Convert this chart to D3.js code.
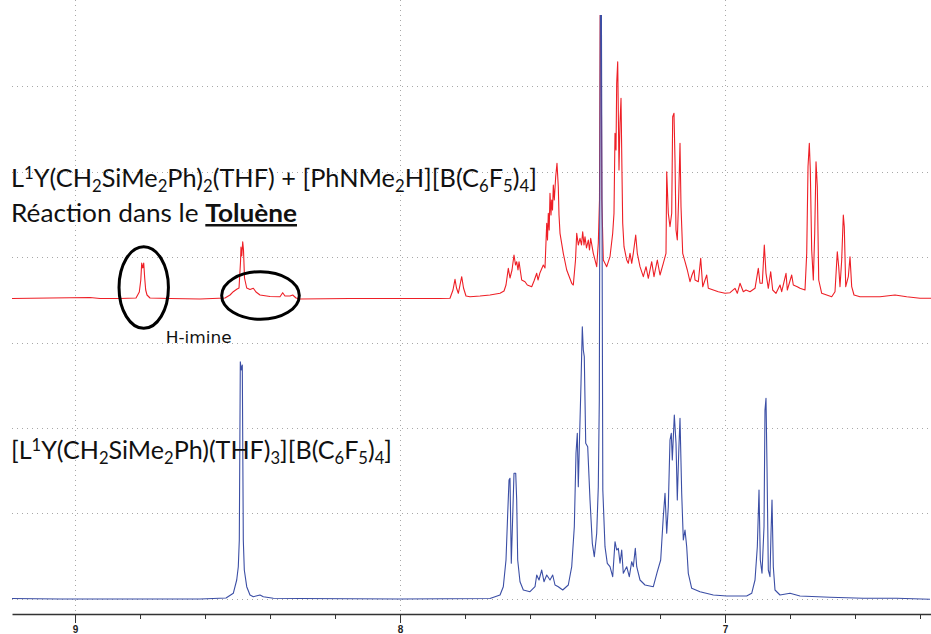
<!DOCTYPE html>
<html>
<head>
<meta charset="utf-8">
<script src="https://cdn.jsdelivr.net/npm/d3@7"></script>
<style>
  html, body { margin: 0; padding: 0; background: #ffffff; }
  svg { display: block; }
</style>
</head>
<body>
<script>
// ---------------- DATA ----------------
// chemical shift (ppm) , intensity (a.u.)
const redSpectrum = [[9.1939,0],[9.0770,0.5],[8.9539,1],[8.9231,0],[8.8616,0],[8.8123,0.5],[8.8022,6.5],[8.7976,18.5],[8.7948,35.5],[8.7917,30.5],[8.7886,35.5],[8.7856,20.5],[8.7825,8.5],[8.7785,3.5],[8.7693,0.5],[8.7077,0],[8.6154,-0.5],[8.5385,0.5],[8.5231,3.5],[8.5130,6.8],[8.5025,9.2],[8.4954,10.5],[8.4908,36.5],[8.4893,51.5],[8.4868,42.5],[8.4840,56.8],[8.4816,48.5],[8.4785,20.5],[8.4717,10.5],[8.4616,9],[8.4514,10.2],[8.4431,6.5],[8.4308,3.5],[8.4000,2],[8.3693,1.8],[8.3610,5.8],[8.3539,2.5],[8.3385,2.5],[8.3302,3.5],[8.3200,0.5],[8.3077,-0.5],[8.1539,0],[8.0000,0],[7.8770,0],[7.8462,0.2],[7.8370,8.5],[7.8308,19.2],[7.8262,10.5],[7.8206,5.2],[7.8154,13.5],[7.8102,21.8],[7.8046,10.5],[7.7970,2.5],[7.7846,1.8],[7.7539,2.5],[7.7231,3.5],[7.6923,5.2],[7.6800,7.5],[7.6739,13.5],[7.6668,30.2],[7.6616,20.5],[7.6554,28.5],[7.6493,43.5],[7.6446,33.5],[7.6410,36.8],[7.6370,28.5],[7.6339,36.8],[7.6256,18.5],[7.6154,16.8],[7.6083,13.5],[7.5948,11.8],[7.5877,17.5],[7.5794,25.2],[7.5754,18.5],[7.5693,25.8],[7.5591,33.5],[7.5539,30.5],[7.5486,75.2],[7.5462,58.5],[7.5437,85.2],[7.5410,68.5],[7.5385,105.2],[7.5354,83.5],[7.5333,98.5],[7.5308,88.5],[7.5283,113.5],[7.5253,98.5],[7.5210,121.8],[7.5170,135.2],[7.5130,111.8],[7.5108,83.5],[7.5077,65.2],[7.4976,45.2],[7.4871,28.5],[7.4717,15.2],[7.4668,13.5],[7.4600,38.5],[7.4563,65.2],[7.4514,53.5],[7.4462,60.2],[7.4416,53.5],[7.4379,66.8],[7.4339,53.5],[7.4308,61.8],[7.4262,50.5],[7.4206,58.5],[7.4170,48.5],[7.4133,60.2],[7.4053,45.2],[7.3948,31.8],[7.3899,55.2],[7.3862,98.5],[7.3837,320],[7.3818,320],[7.3790,98.5],[7.3745,38.5],[7.3640,31.8],[7.3539,41.8],[7.3456,65.2],[7.3416,85.2],[7.3385,165.2],[7.3354,148.5],[7.3333,215.2],[7.3302,236.8],[7.3262,128.5],[7.3231,175.2],[7.3200,200.2],[7.3170,125.2],[7.3148,75.2],[7.3108,51.8],[7.3025,38.5],[7.2976,35.2],[7.2923,45.2],[7.2871,35.2],[7.2822,45.2],[7.2748,63.5],[7.2699,45.2],[7.2616,31.8],[7.2514,21.8],[7.2431,31.8],[7.2360,20.2],[7.2256,36.8],[7.2185,21.8],[7.2083,38.5],[7.2000,23.5],[7.1899,35.2],[7.1816,45.2],[7.1794,126.8],[7.1745,85.2],[7.1693,71.8],[7.1640,85.2],[7.1610,181.8],[7.1570,185.2],[7.1539,138.5],[7.1508,68.5],[7.1468,58.5],[7.1425,101.8],[7.1385,155.2],[7.1354,91.8],[7.1302,45.2],[7.1231,36.8],[7.1160,28.5],[7.1077,16.8],[7.1016,23.5],[7.0954,28.5],[7.0923,18.5],[7.0822,16.8],[7.0748,40.2],[7.0686,11.8],[7.0563,23.5],[7.0514,10.2],[7.0360,8.5],[7.0206,6.8],[7.0000,5.2],[6.9846,5.8],[6.9693,10.2],[6.9622,5.2],[6.9539,15.2],[6.9437,6.8],[6.9354,8.5],[6.9231,6.8],[6.9077,10.2],[6.8976,30.2],[6.8923,15.2],[6.8853,15.2],[6.8791,53.5],[6.8739,25.2],[6.8668,10.2],[6.8594,26.8],[6.8533,8.5],[6.8431,5.2],[6.8308,13.5],[6.8256,6.8],[6.8123,25.2],[6.8083,8.5],[6.7948,23.5],[6.7899,13.5],[6.7776,11.8],[6.7693,10.2],[6.7539,8.5],[6.7486,45.2],[6.7446,131.8],[6.7406,155.2],[6.7376,128.5],[6.7333,48.5],[6.7283,18.5],[6.7240,65.2],[6.7200,136.8],[6.7160,111.8],[6.7117,18.5],[6.7025,5.2],[6.6871,3.5],[6.6717,1.8],[6.6616,6.8],[6.6545,46.8],[6.6502,31.8],[6.6462,11.8],[6.6410,38.5],[6.6360,83.5],[6.6330,71.8],[6.6286,11.8],[6.6206,21.8],[6.6154,41.8],[6.6102,11.8],[6.6031,3.5],[6.5846,1.8],[6.5231,1.8],[6.4770,3.5],[6.4410,1.8],[6.4000,0.2],[6.3662,0.2]];

const blueSpectrum = [[9.1939,0],[9.0462,-0.5],[8.8400,-0.5],[8.6154,-0.5],[8.5354,0.5],[8.5130,5.2],[8.5025,18.5],[8.4976,31.8],[8.4945,58.5],[8.4914,236.8],[8.4883,228.5],[8.4853,233.5],[8.4822,58.5],[8.4791,28.5],[8.4717,11.8],[8.4616,3.5],[8.4514,1.8],[8.4308,3.5],[8.4206,1.8],[8.3899,0.2],[8.3077,0],[8.0000,-0.5],[7.7231,0],[7.6923,3.5],[7.6822,11.8],[7.6739,38.5],[7.6686,85.2],[7.6646,118.5],[7.6616,120.2],[7.6576,35.2],[7.6533,81.8],[7.6493,125.2],[7.6440,125.2],[7.6410,98.5],[7.6379,38.5],[7.6308,16.8],[7.6206,8.5],[7.6000,6.8],[7.5846,11.8],[7.5794,23.5],[7.5723,18.5],[7.5640,28.5],[7.5570,16.8],[7.5486,23.5],[7.5385,18.5],[7.5302,23.5],[7.5231,13.5],[7.5130,11.8],[7.4994,8.5],[7.4822,13.5],[7.4717,31.8],[7.4637,71.8],[7.4585,145.2],[7.4545,165.2],[7.4514,111.8],[7.4483,151.8],[7.4431,215.2],[7.4391,271.8],[7.4360,248.5],[7.4330,241.8],[7.4286,155.2],[7.4225,151.8],[7.4154,98.5],[7.4083,55.2],[7.4022,41.8],[7.3948,65.2],[7.3899,111.8],[7.3868,198.5],[7.3833,620],[7.3806,620],[7.3760,108.5],[7.3693,51.8],[7.3622,35.2],[7.3539,31.8],[7.3456,21.8],[7.3385,56.8],[7.3333,48.5],[7.3283,50.2],[7.3231,35.2],[7.3179,48.5],[7.3130,25.2],[7.3025,31.8],[7.2945,21.8],[7.2871,36.8],[7.2822,31.8],[7.2760,50.2],[7.2717,31.8],[7.2616,18.5],[7.2462,13.5],[7.2206,11.8],[7.2083,26.8],[7.1979,38.5],[7.1899,81.8],[7.1846,105.2],[7.1794,65.2],[7.1745,91.8],[7.1693,158.5],[7.1653,165.2],[7.1622,138.5],[7.1560,183.5],[7.1508,155.2],[7.1468,98.5],[7.1425,145.2],[7.1385,180.2],[7.1333,105.2],[7.1283,58.5],[7.1231,68.5],[7.1179,51.8],[7.1130,25.2],[7.1025,10.2],[7.0770,6.8],[7.0360,3.5],[6.9948,2.5],[6.9333,2.5],[6.9179,5.2],[6.9077,18.5],[6.9006,51.8],[6.8954,108.5],[6.8914,38.5],[6.8862,25.2],[6.8800,71.8],[6.8770,188.5],[6.8739,200.2],[6.8708,131.8],[6.8668,28.5],[6.8616,21.8],[6.8585,65.2],[6.8554,98.5],[6.8514,31.8],[6.8462,8.5],[6.8308,3.5],[6.8000,5.2],[6.7693,2.5],[6.6770,1.2],[6.5745,0.2],[6.4717,0.2],[6.3693,-0.8]];

const redOffset = 300;                 // vertical stacking offset of the red trace (a.u.)
const majorTicks = [9, 8, 7];
const minorTicks = [8.8, 8.6, 8.4, 8.2, 7.8, 7.6, 7.4, 7.2, 6.8, 6.6, 6.4];
const gridLevels = [0, 85.3, 170.7, 256, 341.3, 426.7, 512];
const ppmDomain = [9.1939, 6.3662];
const intensityDomain = [0, 583.5];

// labels ( ^x = superscript, _x = subscript, *...* = bold underlined )
const labelTop1 = "L^1Y(CH_2SiMe_2Ph)_2(THF) + [PhNMe_2H][B(C_6F_5)_4]";
const labelTop2 = "Réaction dans le *Toluène*";
const labelBottom = "[L^1Y(CH_2SiMe_2Ph)(THF)_3][B(C_6F_5)_4]";
const annotText = "H-imine";
// annotation ellipses on the red trace: centre ppm, centre intensity (red units), half-widths
const annotEllipses = [
  { ppm: 8.7886, inten: 11, rppm: 0.076, rint: 40.8 },
  { ppm: 8.4293, inten: 3,  rppm: 0.1194, rint: 23.8 }
];
const annotLabel = { ppm: 8.7210, inten: -44 };

// ---------------- DRAW ----------------
const W = 931, H = 634;
const svg = d3.select("body").append("svg").attr("width", W).attr("height", H);
svg.append("rect").attr("width", W).attr("height", H).attr("fill", "#fff");

const x = d3.scaleLinear().domain(ppmDomain).range([12, 931]);
const y = d3.scaleLinear().domain(intensityDomain).range([598.5, 15]);
const axisY = 614;

// grid
const grid = svg.append("g");
grid.selectAll("line.h").data(gridLevels).join("line")
  .attr("x1", 12).attr("x2", W)
  .attr("y1", d => Math.round(y(d)) + 0.5).attr("y2", d => Math.round(y(d)) + 0.5)
  .attr("stroke", "#a8a8a8").attr("stroke-width", 1).attr("stroke-dasharray", "1,4");
grid.selectAll("line.v").data(majorTicks).join("line")
  .attr("x1", d => Math.round(x(d)) + 0.5).attr("x2", d => Math.round(x(d)) + 0.5)
  .attr("y1", 0).attr("y2", axisY)
  .attr("stroke", "#a8a8a8").attr("stroke-width", 1).attr("stroke-dasharray", "1,4");

// clip
svg.append("clipPath").attr("id", "plotclip").append("rect")
  .attr("x", 12).attr("y", 15).attr("width", W - 12).attr("height", axisY - 15);

const lineRed = d3.line().x(d => x(d[0])).y(d => y(d[1] + redOffset));
const lineBlue = d3.line().x(d => x(d[0])).y(d => y(d[1]));

const plot = svg.append("g").attr("clip-path", "url(#plotclip)");
plot.append("path").datum(redSpectrum).attr("d", lineRed)
  .attr("fill", "none").attr("stroke", "#ee1f26").attr("stroke-width", 1.1).attr("stroke-linejoin", "round");
plot.append("path").datum(blueSpectrum).attr("d", lineBlue)
  .attr("fill", "none").attr("stroke", "#3b4ea5").attr("stroke-width", 1.1).attr("stroke-linejoin", "round");

// axis
const axMajor = d3.axisBottom(x).tickValues(majorTicks).tickSize(9).tickSizeOuter(0).tickPadding(3).tickFormat(d3.format("d"));
const axMinor = d3.axisBottom(x).tickValues(minorTicks).tickSize(5).tickSizeOuter(0).tickFormat("");
const gAx = svg.append("g").attr("transform", `translate(0,${axisY})`).call(axMajor);
const gAx2 = svg.append("g").attr("transform", `translate(0,${axisY})`).call(axMinor);
gAx2.select(".domain").remove();
[gAx, gAx2].forEach(g => {
  g.selectAll("line").attr("stroke", "#333").attr("stroke-width", 1);
  g.select(".domain").attr("stroke", "#333").attr("stroke-width", 1.5);
});
gAx.selectAll("text").attr("fill", "#222").style("font-family", "'Liberation Sans', Arial, sans-serif")
  .style("font-size", "10px").style("font-weight", "bold");

// rich text helper
function richText(str, px, py, size, targetWidth) {
  const t = svg.append("text").attr("x", px).attr("y", py)
    .style("font-family", "Lato, 'Open Sans', sans-serif").style("font-size", size + "px").attr("fill", "#111");
  let cur = 0;
  let bold = false;
  let buf = "";
  const flush = () => {
    if (!buf) return;
    const s = t.append("tspan").text(buf).attr("dy", -cur);
    cur = 0;
    if (bold) s.style("font-weight", "bold").style("text-decoration", "underline");
    buf = "";
  };
  for (let i = 0; i < str.length; i++) {
    const c = str[i];
    if (c === "^" || c === "_") {
      flush();
      const shift = c === "^" ? -0.33 * size : 0.2 * size;
      t.append("tspan").text(str[i + 1]).attr("dy", shift - cur)
        .style("font-size", (size * 0.66) + "px");
      cur = shift;
      i++;
    } else if (c === "*") {
      flush();
      bold = !bold;
    } else {
      buf += c;
    }
  }
  flush();
  if (targetWidth) t.attr("textLength", targetWidth).attr("lengthAdjust", "spacingAndGlyphs");
  return t;
}

richText(labelTop1, 11, 187, 25, 526);
richText(labelTop2, 11, 222, 25, 286);
richText(labelBottom, 11, 459, 25, 381);

// annotations
svg.selectAll("ellipse.annot").data(annotEllipses).join("ellipse")
  .attr("cx", d => x(d.ppm))
  .attr("cy", d => y(d.inten + redOffset))
  .attr("rx", d => Math.abs(x(d.ppm + d.rppm) - x(d.ppm)))
  .attr("ry", d => Math.abs(y(d.rint) - y(0)))
  .attr("fill", "none").attr("stroke", "#000").attr("stroke-width", 3);

svg.append("text").attr("x", x(annotLabel.ppm)).attr("y", y(annotLabel.inten + redOffset))
  .text(annotText).style("font-family", "'DejaVu Sans', Verdana, sans-serif").style("font-size", "16.5px")
  .attr("textLength", 66).attr("lengthAdjust", "spacingAndGlyphs").attr("fill", "#111");
</script>
</body>
</html>
